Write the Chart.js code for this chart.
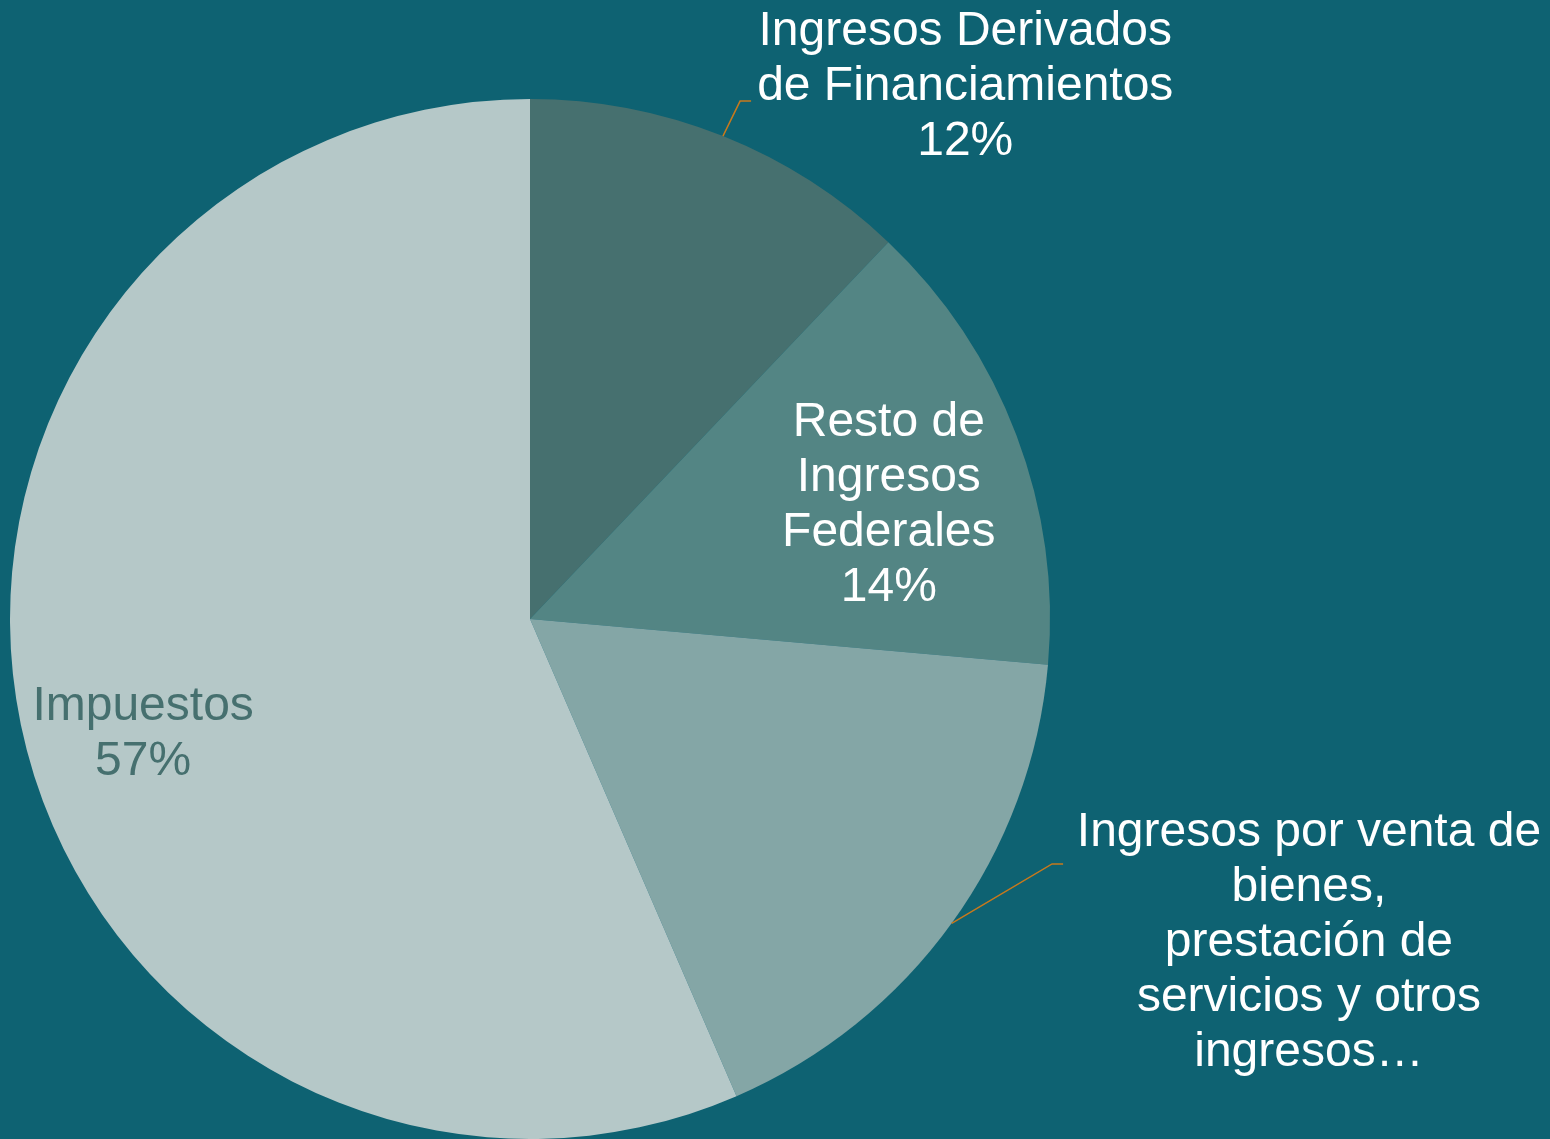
<!DOCTYPE html>
<html>
<head>
<meta charset="utf-8">
<script src="https://cdn.jsdelivr.net/npm/chart.js@4.4.1/dist/chart.umd.min.js"></script>
<style>
  html, body { margin: 0; padding: 0; background: #0e6272; }
  #wrap { width: 1550px; height: 1139px; }
</style>
</head>
<body>
<div id="wrap"><canvas id="ingresos-chart" width="1550" height="1139"></canvas></div>
<script>
const categories = [
    'Ingresos Derivados de Financiamientos',
    'Resto de Ingresos Federales',
    'Ingresos por venta de bienes, prestación de servicios y otros ingresos',
    'Impuestos'
];
const shares = [12.1, 14.3, 17.1, 56.5];
const labelLines = [
    ['Ingresos Derivados', 'de Financiamientos'],
    ['Resto de', 'Ingresos', 'Federales'],
    ['Ingresos por venta de', 'bienes,', 'prestación de', 'servicios y otros', 'ingresos…'],
    ['Impuestos']
];
const showPercent = [true, true, false, true];

const sliceColors = ['#46706f', '#538584', '#84a6a6', '#b5c8c8'];
const labelColors = ['#ffffff', '#ffffff', '#ffffff', '#46706f'];
// label centre and leader elbow, in units of the pie radius from its centre
const labelPos = [
    { x: 0.837, y: -1.023, elbow: { x: 0.404, y: -0.996 } },
    { x: 0.690, y: -0.218 },
    { x: 1.498, y: 0.623, elbow: { x: 1.004, y: 0.471 } },
    { x: -0.744, y: 0.222 }
];

const total = shares.reduce((a, b) => a + b, 0);

const labelPlugin = {
    id: 'sliceLabels',
    afterDatasetsDraw(chart) {
        const ctx = chart.ctx;
        const arcs = chart.getDatasetMeta(0).data;
        ctx.save();
        ctx.font = '48px "Liberation Sans", Arial, sans-serif';
        ctx.textAlign = 'center';
        ctx.textBaseline = 'middle';
        arcs.forEach((arc, i) => {
            const r = arc.outerRadius;
            const pos = labelPos[i];
            const lines = labelLines[i].slice();
            if (showPercent[i]) {
                lines.push(Math.round(shares[i] / total * 100 + 1e-9) + '%');
            }
            const lineH = 55;
            const cx = arc.x + pos.x * r;
            const cy = arc.y + pos.y * r;
            const top = cy - (lines.length - 1) * lineH / 2;

            if (pos.elbow) {
                const mid = (arc.startAngle + arc.endAngle) / 2;
                const ex = arc.x + pos.elbow.x * r;
                const ey = arc.y + pos.elbow.y * r;
                ctx.strokeStyle = '#c8791c';
                ctx.lineWidth = 1.5;
                ctx.beginPath();
                ctx.moveTo(arc.x + Math.cos(mid) * r, arc.y + Math.sin(mid) * r);
                ctx.lineTo(ex, ey);
                ctx.lineTo(ex + 11, ey);
                ctx.stroke();
            }

            ctx.fillStyle = labelColors[i];
            lines.forEach((t, k) => ctx.fillText(t, cx, top + k * lineH));
        });
        ctx.restore();
    }
};

const chart = new Chart(document.getElementById('ingresos-chart'), {
    type: 'pie',
    data: {
        labels: categories,
        datasets: [{
            data: shares,
            backgroundColor: sliceColors,
            borderWidth: 0
        }]
    },
    options: {
        responsive: false,
        animation: false,
        layout: {
            padding: { left: 10, right: 500, top: 99, bottom: 0 }
        },
        plugins: {
            legend: { display: false },
            tooltip: { enabled: false }
        }
    },
    plugins: [labelPlugin]
});
</script>
</body>
</html>
